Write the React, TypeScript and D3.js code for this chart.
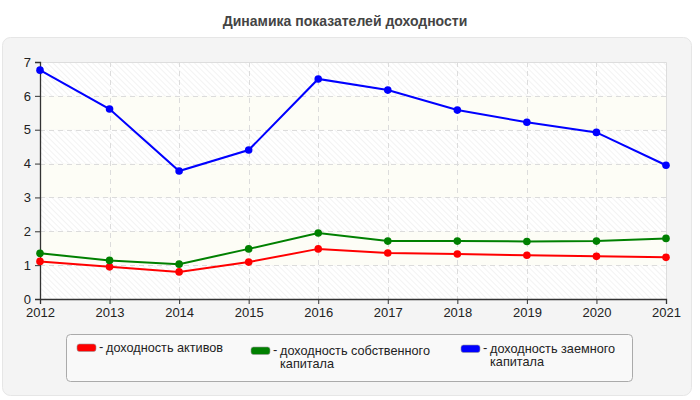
import React, { useEffect, useRef } from "react";
import * as d3 from "d3";

const years = ["2012", "2013", "2014", "2015", "2016", "2017", "2018", "2019", "2020", "2021"];
const assetsReturn = [1.11, 0.95, 0.8, 1.09, 1.48, 1.36, 1.33, 1.29, 1.26, 1.23];
const equityReturn = [1.35, 1.14, 1.03, 1.48, 1.95, 1.71, 1.71, 1.7, 1.71, 1.79];
const debtReturn = [6.76, 5.61, 3.78, 4.4, 6.5, 6.17, 5.58, 5.22, 4.92, 3.95];
const yTicks = [0, 1, 2, 3, 4, 5, 6, 7];

const seriesList = [
  { name: ["доходность активов"], color: "#ff0000", values: assetsReturn },
  { name: ["доходность собственного", "капитала"], color: "#008000", values: equityReturn },
  { name: ["доходность заемного", "капитала"], color: "#0000ff", values: debtReturn },
];

const App = () => {
  const ref = useRef<SVGSVGElement>(null);

  useEffect(() => {
    const width = 700;
    const height = 400;
    const margin = { top: 62, right: 34, bottom: 101, left: 40 };
    const plotW = width - margin.left - margin.right;
    const plotH = height - margin.top - margin.bottom;
    const font = "Arial, 'Liberation Sans', sans-serif";

    const svg = d3.select(ref.current).attr("width", width).attr("height", height);
    svg.selectAll("*").remove();

    const defs = svg.append("defs");
    const pat = defs
      .append("pattern")
      .attr("id", "hatch")
      .attr("patternUnits", "userSpaceOnUse")
      .attr("width", 4)
      .attr("height", 4)
      .attr("patternTransform", "rotate(-45)");
    pat.append("rect").attr("width", 4).attr("height", 4).attr("fill", "#ffffff");
    pat.append("line").attr("x1", 0).attr("y1", 0).attr("x2", 0).attr("y2", 4)
      .attr("stroke", "#ebebeb").attr("stroke-width", 1.2);

    svg.append("rect").attr("width", width).attr("height", height).attr("fill", "#ffffff");

    // outer panel
    svg.append("rect")
      .attr("x", 2.5).attr("y", 37.5).attr("width", 689).attr("height", 358)
      .attr("rx", 8).attr("fill", "#f4f4f4").attr("stroke", "#e6e6e6");

    svg.append("text")
      .attr("x", 345).attr("y", 26)
      .attr("text-anchor", "middle")
      .attr("font-family", font).attr("font-size", 14).attr("font-weight", "bold")
      .attr("fill", "#444")
      .text("Динамика показателей доходности");

    const x = d3.scalePoint().domain(years).range([0, plotW]);
    const y = d3.scaleLinear().domain([0, 7]).range([plotH, 0]);

    const g = svg.append("g").attr("transform", `translate(${margin.left},${margin.top})`);

    // alternating bands
    g.selectAll("rect.band")
      .data(yTicks.slice(0, -1))
      .join("rect")
      .attr("class", "band")
      .attr("x", 0)
      .attr("y", (d) => y(d + 1))
      .attr("width", plotW)
      .attr("height", (d) => y(d) - y(d + 1))
      .attr("fill", (d) => (d % 2 === 0 ? "url(#hatch)" : "#fdfdf6"));

    // grid
    g.append("g")
      .selectAll("line")
      .data(yTicks.slice(1))
      .join("line")
      .attr("x1", 0).attr("x2", plotW)
      .attr("y1", (d) => Math.round(y(d)) + 0.5).attr("y2", (d) => Math.round(y(d)) + 0.5)
      .attr("stroke", "#dcdcdc").attr("stroke-dasharray", "5,4");
    g.append("g")
      .selectAll("line")
      .data(years.slice(1, -1))
      .join("line")
      .attr("x1", (d) => Math.round(x(d)!) + 0.5).attr("x2", (d) => Math.round(x(d)!) + 0.5)
      .attr("y1", 0).attr("y2", plotH)
      .attr("stroke", "#dcdcdc").attr("stroke-dasharray", "5,4");

    // frame top/right
    g.append("path")
      .attr("d", `M0,0.5H${plotW + 0.5}V${plotH}`)
      .attr("fill", "none").attr("stroke", "#dddddd");

    const yAxis = g.append("g")
      .call(d3.axisLeft(y).tickValues(yTicks).tickSize(5).tickPadding(4).tickFormat(d3.format("d")));
    yAxis.select(".domain").attr("stroke", "#333").attr("stroke-width", 1.3);
    yAxis.selectAll(".tick line").attr("stroke", "#333");
    yAxis.selectAll("text").attr("font-family", font).attr("font-size", 13).attr("fill", "#222");

    const xAxis = g.append("g")
      .attr("transform", `translate(0,${plotH})`)
      .call(d3.axisBottom(x).tickSize(5).tickPadding(4));
    xAxis.select(".domain").attr("stroke", "#333").attr("stroke-width", 1.3);
    xAxis.selectAll(".tick line").attr("stroke", "#333");
    xAxis.selectAll("text").attr("font-family", font).attr("font-size", 13).attr("fill", "#222");

    const line = d3.line<number>()
      .x((_, i) => x(years[i])!)
      .y((d) => y(d));

    seriesList.forEach((s) => {
      g.append("path")
        .datum(s.values)
        .attr("d", line)
        .attr("fill", "none")
        .attr("stroke", s.color)
        .attr("stroke-width", 2);
      g.selectAll(null)
        .data(s.values)
        .join("circle")
        .attr("cx", (_, i) => x(years[i])!)
        .attr("cy", (d) => y(d))
        .attr("r", 3.8)
        .attr("fill", s.color);
    });

    // legend
    const lg = svg.append("g");
    lg.append("rect")
      .attr("x", 66.5).attr("y", 334.5).attr("width", 566).attr("height", 47)
      .attr("rx", 4).attr("fill", "#f9f9f9").attr("stroke", "#aaaaaa");
    const legendX = [77, 251, 461];
    const legendY = [352, 355, 353];
    seriesList.forEach((s, i) => {
      const lx = legendX[i];
      const ly = legendY[i];
      lg.append("rect")
        .attr("x", lx).attr("y", ly - 8).attr("width", 19).attr("height", 7.5)
        .attr("rx", 2.5).attr("fill", s.color).attr("stroke", "#999").attr("stroke-width", 0.6);
      lg.append("text")
        .attr("x", lx + 22).attr("y", ly - 1)
        .attr("font-family", font).attr("font-size", 13).attr("fill", "#222")
        .text("-");
      s.name.forEach((ln, j) => {
        lg.append("text")
          .attr("x", lx + 29)
          .attr("y", ly + j * 13)
          .attr("font-family", font).attr("font-size", 12.7).attr("fill", "#222")
          .text(ln);
      });
    });
  }, []);

  return <svg ref={ref} style={{ display: "block", position: "absolute", left: 0, top: 0 }}></svg>;
};

export default App;
